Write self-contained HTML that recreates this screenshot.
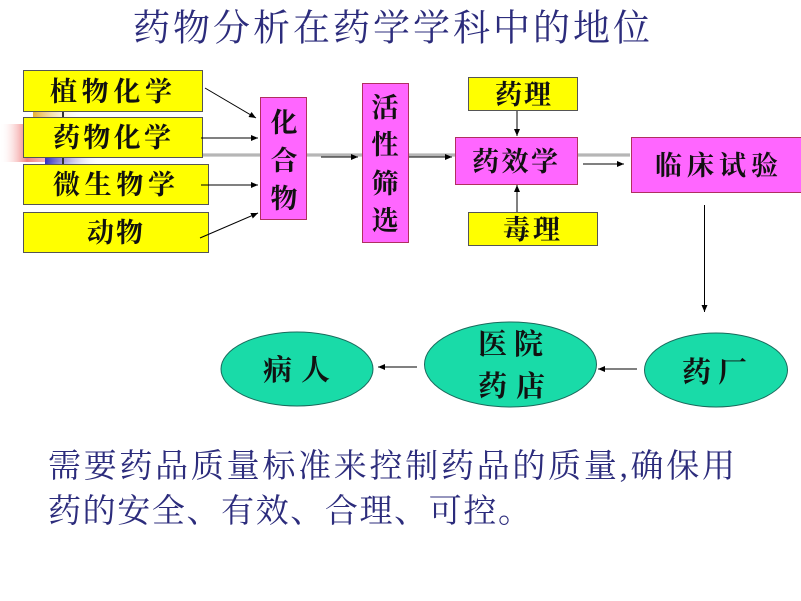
<!DOCTYPE html>
<html>
<head>
<meta charset="utf-8">
<style>
html,body{margin:0;padding:0;background:#fff;}
svg{display:block;}
text{font-family:"Liberation Serif","Noto Serif CJK SC",serif;}
.bx{font-size:27px;font-weight:bold;fill:#111;}
.vt{font-size:27px;font-weight:bold;fill:#111;}
.el{font-size:29px;font-weight:bold;fill:#111;}
.nv{fill:#2c2c7c;}
</style>
</head>
<body>
<svg width="801" height="601" viewBox="0 0 801 601" xmlns="http://www.w3.org/2000/svg">
<defs>
  <marker id="ah" markerWidth="8" markerHeight="8" refX="7" refY="4" orient="auto" markerUnits="userSpaceOnUse">
    <path d="M0,1 L7,4 L0,7 Z" fill="#000"/>
  </marker>
  <linearGradient id="pk" x1="0" x2="1" y1="0" y2="0">
    <stop offset="0" stop-color="#ffffff" stop-opacity="0"/>
    <stop offset="0.3" stop-color="#f08080"/>
    <stop offset="1" stop-color="#ffe0e0" stop-opacity="0"/>
  </linearGradient>
  <linearGradient id="or" x1="0" x2="1" y1="0" y2="0">
    <stop offset="0" stop-color="#e8b030"/>
    <stop offset="1" stop-color="#fff" stop-opacity="0"/>
  </linearGradient>
  <linearGradient id="bl" x1="0" x2="1" y1="0" y2="0">
    <stop offset="0" stop-color="#3030c0"/>
    <stop offset="1" stop-color="#fff" stop-opacity="0"/>
  </linearGradient>
  <linearGradient id="gr" x1="0" x2="0" y1="0" y2="1">
    <stop offset="0" stop-color="#e0e0e0"/>
    <stop offset="0.5" stop-color="#a8a8a8"/>
    <stop offset="1" stop-color="#e0e0e0"/>
  </linearGradient>
</defs>

<!-- background decoration -->
<rect x="0" y="124" width="90" height="38" fill="url(#pk)"/>
<rect x="33" y="110" width="50" height="8" fill="url(#or)"/>
<rect x="45" y="157" width="55" height="7" fill="url(#bl)"/>
<rect x="62" y="108" width="2" height="58" fill="#333"/>
<rect x="200" y="153" width="430" height="4" fill="url(#gr)"/>

<!-- title -->
<text class="nv" x="133" y="29" font-size="37" dominant-baseline="central" textLength="517" lengthAdjust="spacing">药物分析在药学学科中的地位</text>

<!-- left yellow boxes -->
<rect x="23.5" y="70.5" width="179" height="41" fill="#ffff00" stroke="#555" stroke-width="1"/>
<rect x="23.5" y="117.5" width="179" height="40" fill="#ffff00" stroke="#555" stroke-width="1"/>
<rect x="23.5" y="164.5" width="185" height="40" fill="#ffff00" stroke="#555" stroke-width="1"/>
<rect x="23.5" y="212.5" width="185" height="40" fill="#ffff00" stroke="#555" stroke-width="1"/>
<text class="bx" x="50" y="92" dominant-baseline="central" textLength="122" lengthAdjust="spacing">植物化学</text>
<text class="bx" x="53" y="138" dominant-baseline="central" textLength="118" lengthAdjust="spacing">药物化学</text>
<text class="bx" x="53" y="185" dominant-baseline="central" textLength="122" lengthAdjust="spacing">微生物学</text>
<text class="bx" x="87" y="233" dominant-baseline="central" textLength="56" lengthAdjust="spacing">动物</text>

<!-- arrows to 化合物 -->
<line x1="205" y1="88" x2="256" y2="118" stroke="#000" stroke-width="1" marker-end="url(#ah)"/>
<line x1="201" y1="138" x2="258" y2="138" stroke="#000" stroke-width="1" marker-end="url(#ah)"/>
<line x1="201" y1="185" x2="258" y2="185" stroke="#000" stroke-width="1" marker-end="url(#ah)"/>
<line x1="200" y1="238" x2="258" y2="213" stroke="#000" stroke-width="1" marker-end="url(#ah)"/>

<!-- 化合物 -->
<rect x="260.5" y="97.5" width="46" height="122" fill="#ff66ff" stroke="#b03060" stroke-width="1"/>
<text class="vt" x="284" y="123" text-anchor="middle" dominant-baseline="central">化</text>
<text class="vt" x="284" y="161" text-anchor="middle" dominant-baseline="central">合</text>
<text class="vt" x="284" y="199" text-anchor="middle" dominant-baseline="central">物</text>

<line x1="321" y1="157" x2="358" y2="157" stroke="#000" stroke-width="1" marker-end="url(#ah)"/>

<!-- 活性筛选 -->
<rect x="362.5" y="83.5" width="46" height="159" fill="#ff66ff" stroke="#b03060" stroke-width="1"/>
<text class="vt" x="385" y="108" text-anchor="middle" dominant-baseline="central">活</text>
<text class="vt" x="385" y="145" text-anchor="middle" dominant-baseline="central">性</text>
<text class="vt" x="385" y="184" text-anchor="middle" dominant-baseline="central">筛</text>
<text class="vt" x="385" y="221" text-anchor="middle" dominant-baseline="central">选</text>

<line x1="409" y1="157" x2="452" y2="157" stroke="#000" stroke-width="1" marker-end="url(#ah)"/>

<!-- 药理 / 药效学 / 毒理 -->
<rect x="468.5" y="77.5" width="109" height="33" fill="#ffff00" stroke="#555" stroke-width="1"/>
<text class="bx" x="495" y="95" dominant-baseline="central" textLength="56" lengthAdjust="spacing">药理</text>
<line x1="517" y1="111" x2="517" y2="136" stroke="#000" stroke-width="1" marker-end="url(#ah)"/>

<rect x="455.5" y="137.5" width="122" height="47" fill="#ff66ff" stroke="#b03060" stroke-width="1"/>
<text class="bx" x="472" y="162" dominant-baseline="central" textLength="86" lengthAdjust="spacing">药效学</text>

<rect x="468.5" y="212.5" width="129" height="33" fill="#ffff00" stroke="#555" stroke-width="1"/>
<text class="bx" x="503" y="230" dominant-baseline="central" textLength="57" lengthAdjust="spacing">毒理</text>
<line x1="517" y1="212" x2="517" y2="185" stroke="#000" stroke-width="1" marker-end="url(#ah)"/>

<line x1="583" y1="164" x2="624" y2="164" stroke="#000" stroke-width="1" marker-end="url(#ah)"/>

<!-- 临床试验 -->
<rect x="631.5" y="137.5" width="172" height="55" fill="#ff66ff" stroke="#b03060" stroke-width="1"/>
<text class="bx" x="655" y="166" dominant-baseline="central" textLength="123" lengthAdjust="spacing">临床试验</text>

<line x1="704.5" y1="205" x2="704.5" y2="312" stroke="#000" stroke-width="1" marker-end="url(#ah)"/>

<!-- ellipses -->
<ellipse cx="716" cy="370" rx="71.5" ry="37" fill="#19dba8" stroke="#1a6a5c" stroke-width="1"/>
<text class="el" x="682" y="373" dominant-baseline="central" textLength="65" lengthAdjust="spacing">药厂</text>

<line x1="637" y1="369" x2="598" y2="369" stroke="#000" stroke-width="1" marker-end="url(#ah)"/>

<ellipse cx="510.5" cy="364.5" rx="86" ry="42.5" fill="#19dba8" stroke="#1a6a5c" stroke-width="1"/>
<text class="el" x="478" y="345" dominant-baseline="central" textLength="65" lengthAdjust="spacing">医院</text>
<text class="el" x="478" y="387" dominant-baseline="central" textLength="67" lengthAdjust="spacing">药店</text>

<line x1="417" y1="367" x2="378" y2="367" stroke="#000" stroke-width="1" marker-end="url(#ah)"/>

<ellipse cx="297" cy="369" rx="76" ry="37" fill="#19dba8" stroke="#1a6a5c" stroke-width="1"/>
<text class="el" x="263" y="371" dominant-baseline="central" textLength="67" lengthAdjust="spacing">病人</text>

<!-- bottom text -->
<text class="nv" x="48" y="467" font-size="33" dominant-baseline="central" textLength="687" lengthAdjust="spacing">需要药品质量标准来控制药品的质量,确保用</text>
<text class="nv" x="48" y="512" font-size="33" dominant-baseline="central" textLength="483" lengthAdjust="spacing">药的安全、有效、合理、可控。</text>
</svg>
</body>
</html>
